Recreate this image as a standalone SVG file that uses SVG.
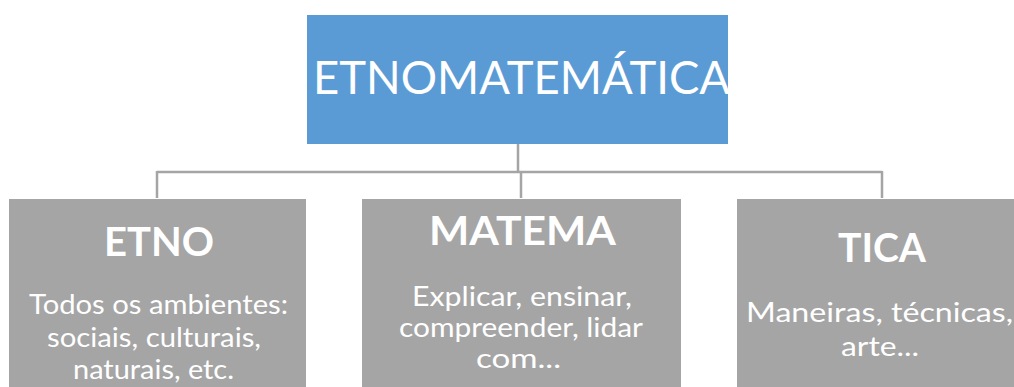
<svg xmlns="http://www.w3.org/2000/svg" width="1014" height="387" viewBox="0 0 1014 387">
<style>
.box{fill:#a5a5a5}
.top{fill:#5b9bd5}
.t{fill:#fff;font-family:Lato,"Open Sans","Liberation Sans",sans-serif}
.h{font-weight:bold;font-size:41px}
.b{font-size:26px}
.c{fill:none;stroke:#a5a5a5;stroke-width:2.5}
</style>
<rect width="1014" height="387" fill="#fff"/>
<g id="connectors">
<path class="c" d="M518 144V172M157 172H882M157 171V198M521 171V198M882 171V198"/>
</g>
<g id="node-etnomatematica">
<rect class="top" x="307" y="15" width="421" height="129"/>
<text class="t" x="313" y="94" font-size="46" textLength="417" lengthAdjust="spacingAndGlyphs">ETNOMATEMÁTICA</text>
</g>
<g id="node-etno">
<rect class="box" x="9" y="199" width="297" height="188"/>
<text class="t h" x="104" y="256" textLength="110" lengthAdjust="spacingAndGlyphs">ETNO</text>
<text class="t b" x="29" y="314" textLength="259" lengthAdjust="spacingAndGlyphs">Todos os ambientes:</text>
<text class="t b" x="47" y="347" textLength="214" lengthAdjust="spacingAndGlyphs">sociais, culturais,</text>
<text class="t b" x="73" y="379" textLength="161" lengthAdjust="spacingAndGlyphs">naturais, etc.</text>
</g>
<g id="node-matema">
<rect class="box" x="362" y="199" width="319" height="188"/>
<text class="t h" x="429" y="245" textLength="187" lengthAdjust="spacingAndGlyphs">MATEMA</text>
<text class="t b" x="412" y="306" textLength="220" lengthAdjust="spacingAndGlyphs">Explicar, ensinar,</text>
<text class="t b" x="399" y="337" textLength="244" lengthAdjust="spacingAndGlyphs">compreender, lidar</text>
<text class="t b" x="476" y="368" textLength="85" lengthAdjust="spacingAndGlyphs">com...</text>
</g>
<g id="node-tica">
<rect class="box" x="737" y="199" width="290" height="188"/>
<text class="t h" x="838" y="262" textLength="88" lengthAdjust="spacingAndGlyphs">TICA</text>
<text class="t b" x="746" y="322" textLength="267" lengthAdjust="spacingAndGlyphs">Maneiras, técnicas,</text>
<text class="t b" x="841" y="356" textLength="78" lengthAdjust="spacingAndGlyphs">arte...</text>
</g>
</svg>
